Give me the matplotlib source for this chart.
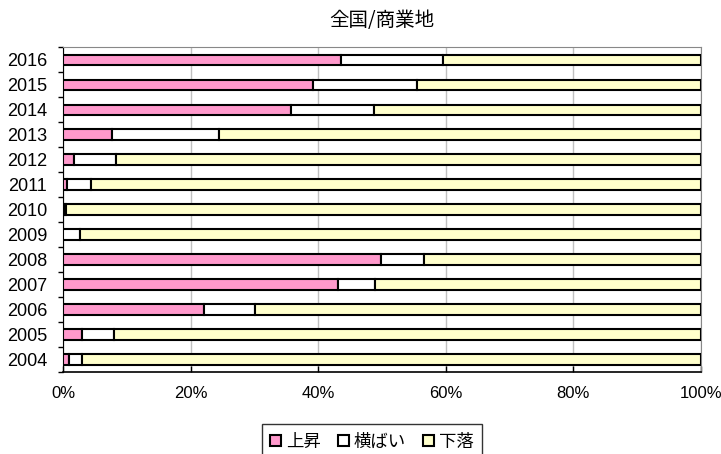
import numpy as np
import matplotlib.pyplot as plt
from matplotlib.ticker import FixedLocator, PercentFormatter

# values (percent shares, bottom to top)
years = ["2004", "2005", "2006", "2007", "2008", "2009", "2010",
         "2011", "2012", "2013", "2014", "2015", "2016"]
rise = [0.9, 2.9, 22.0, 43.1, 49.8, 0.0, 0.1, 0.6, 1.6, 7.7, 35.7, 39.1, 43.5]
flat = [2.1, 5.1, 8.0, 5.8, 6.8, 2.6, 0.3, 3.7, 6.6, 16.8, 13.1, 16.4, 16.0]
fall = [100 - r - f for r, f in zip(rise, flat)]

labels = ["上昇", "横ばい", "下落"]
colors = ["#FF99CC", "#FFFFFF", "#FFFFCC"]

jp = ["Noto Sans CJK JP", "DejaVu Sans"]

fig = plt.figure(figsize=(7.21, 4.54), dpi=100)
ax = fig.add_axes([0.0878, 0.1806, 0.8842, 0.7152])

y = np.arange(len(years))
left = np.zeros(len(years))
for vals, lab, col in zip([rise, flat, fall], labels, colors):
    ax.barh(y, vals, left=left, height=0.42, color=col, edgecolor="black",
            linewidth=1.5, label=lab, zorder=3)
    left += np.array(vals)

ax.set_xlim(0, 100)
ax.set_ylim(-0.5, len(years) - 0.5)
ax.set_xticks([0, 20, 40, 60, 80, 100])
ax.xaxis.set_major_formatter(PercentFormatter(decimals=0))
ax.set_yticks(y)
ax.set_yticklabels(years)
ax.yaxis.set_minor_locator(FixedLocator(np.arange(-0.5, len(years), 1.0)))

ax.tick_params(axis="x", direction="in", length=4.5, width=1, pad=10,
               labelsize=12, top=False)
ax.tick_params(axis="y", which="major", length=0, pad=11.5, labelsize=13)
ax.tick_params(axis="y", which="minor", direction="out", length=3.6, width=1)
for t in ax.get_xticklabels() + ax.get_yticklabels():
    t.set_fontfamily("Liberation Sans")

ax.grid(axis="x", color="#c0c0c0", linewidth=1, zorder=0)
ax.spines["left"].set_color("black")
ax.spines["bottom"].set_color("black")
ax.spines["bottom"].set_linewidth(1.2)
ax.spines["top"].set_color("#888888")
ax.spines["right"].set_color("#888888")

ax.set_title("全国/商業地", family=jp, fontsize=14, pad=15)

leg = fig.legend(loc="lower center", bbox_to_anchor=(0.516, -0.012), ncol=3,
                 prop={"family": jp, "size": 12.5}, frameon=True, fancybox=False,
                 edgecolor="black", handlelength=0.6, handleheight=0.6,
                 handletextpad=0.3, columnspacing=1.0, borderpad=0.5,
                 borderaxespad=0)
leg.get_frame().set_linewidth(1)
for h in leg.legend_handles:
    h.set_linewidth(1.5)

fig.savefig("out.png", dpi=100)
